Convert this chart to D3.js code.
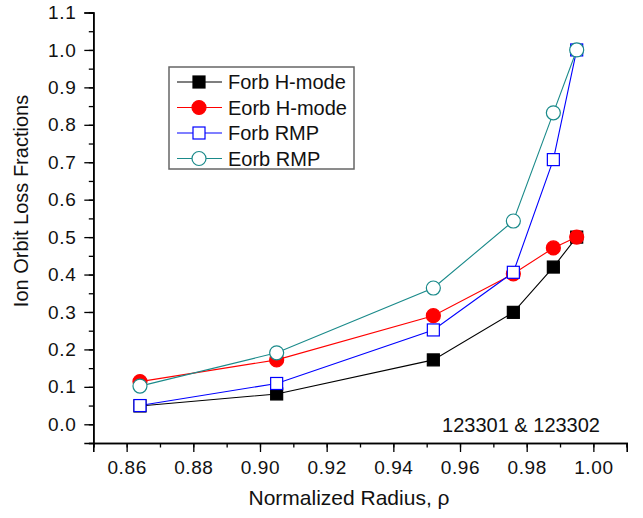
<!DOCTYPE html>
<html>
<head>
<meta charset="utf-8">
<script src="https://cdn.jsdelivr.net/npm/d3@7"></script>
<style>
  body { margin: 0; background: #fff; }
  svg { font-family: Arial, "Liberation Sans", sans-serif; }
</style>
</head>
<body>
<svg width="643" height="518"></svg>
<script>
"use strict";

// normalized radius for each point
const radius = [0.864, 0.905, 0.952, 0.976, 0.988, 0.995];

const forbHmode = [0.049, 0.081, 0.172, 0.299, 0.420, 0.500];
const eorbHmode = [0.114, 0.172, 0.290, 0.402, 0.471, 0.500];
const forbRMP   = [0.050, 0.109, 0.252, 0.406, 0.707, 1.000];
const eorbRMP   = [0.102, 0.191, 0.364, 0.543, 0.832, 1.000];

const seriesNames = ["Forb H-mode", "Eorb H-mode", "Forb RMP", "Eorb RMP"];

const xTicks = [0.86, 0.88, 0.90, 0.92, 0.94, 0.96, 0.98, 1.00];
const yTicks = [0.0, 0.1, 0.2, 0.3, 0.4, 0.5, 0.6, 0.7, 0.8, 0.9, 1.0, 1.1];

const series = [
    { name: seriesNames[0], values: forbHmode, color: "#000000", shape: "square", filled: true },
    { name: seriesNames[1], values: eorbHmode, color: "#ff0000", shape: "circle", filled: true },
    { name: seriesNames[2], values: forbRMP,   color: "#0000ff", shape: "square", filled: false },
    { name: seriesNames[3], values: eorbRMP,   color: "#1a8a8a", shape: "circle", filled: false }
];

const svg = d3.select("svg");
const plotLeft = 93.3, plotRight = 626.7, plotTop = 12.5, plotBottom = 443;

const x = d3.scaleLinear().domain([0.85, 1.01]).range([plotLeft, plotRight]);
const y = d3.scaleLinear().domain([-0.05, 1.1]).range([plotBottom, plotTop]);

// axes: major + minor ticks
const xMinor = d3.range(0.85, 1.0101, 0.01);
const yMinor = d3.range(-0.05, 1.101, 0.05);

const xAxisG = svg.append("g").attr("transform", `translate(0,${plotBottom})`);
xAxisG.call(d3.axisBottom(x).tickValues(xMinor).tickSize(4.5).tickFormat(""));
xAxisG.append("g").call(d3.axisBottom(x).tickValues(xTicks).tickSize(9).tickPadding(9)
    .tickFormat(d3.format(".2f")));

const yAxisG = svg.append("g").attr("transform", `translate(${plotLeft},0)`);
yAxisG.call(d3.axisLeft(y).tickValues(yMinor).tickSize(4.5).tickFormat(""));
yAxisG.append("g").call(d3.axisLeft(y).tickValues(yTicks).tickSize(9).tickPadding(8)
    .tickFormat(d3.format(".1f")));

svg.selectAll(".domain").attr("stroke", "#000").attr("stroke-width", 1.6);
svg.selectAll(".tick line").attr("stroke", "#000").attr("stroke-width", 1.3);
svg.selectAll(".tick text").attr("font-size", 19).attr("fill", "#111")
    .attr("letter-spacing", 0.6)
    .attr("font-family", "Arial, 'Liberation Sans', sans-serif");

// series
const line = d3.line().x(d => x(d[0])).y(d => y(d[1]));

function drawMarker(g, shape, filled, color) {
    if (shape === "square") {
        g.append("rect").attr("x", -6).attr("y", -6).attr("width", 12).attr("height", 12)
            .attr("fill", filled ? color : "#fff").attr("stroke", color).attr("stroke-width", 1.2);
    } else {
        g.append("circle").attr("r", 7)
            .attr("fill", filled ? color : "#fff").attr("stroke", color).attr("stroke-width", 1.2);
    }
}

series.forEach(s => {
    const pts = radius.map((r, i) => [r, s.values[i]]);
    svg.append("path").datum(pts).attr("d", line)
        .attr("fill", "none").attr("stroke", s.color).attr("stroke-width", 1.1);
});
series.forEach(s => {
    radius.forEach((r, i) => {
        const g = svg.append("g").attr("transform", `translate(${x(r)},${y(s.values[i])})`);
        drawMarker(g, s.shape, s.filled, s.color);
    });
});

// legend
const legend = svg.append("g").attr("transform", "translate(169,67)");
legend.append("rect").attr("width", 185).attr("height", 102)
    .attr("fill", "#fff").attr("stroke", "#666").attr("stroke-width", 1.5);
series.forEach((s, i) => {
    const row = legend.append("g").attr("transform", `translate(0,${15 + i * 25.5})`);
    row.append("line").attr("x1", 8).attr("x2", 53).attr("stroke", s.color).attr("stroke-width", 1.1);
    const m = row.append("g").attr("transform", "translate(30,0)");
    drawMarker(m, s.shape, s.filled, s.color);
    row.append("text").attr("x", 59).attr("dy", "0.36em").attr("font-size", 20)
        .attr("fill", "#111").text(s.name);
});

// annotation
svg.append("text").attr("x", 600).attr("y", 432).attr("text-anchor", "end")
    .attr("font-size", 20).attr("fill", "#111").text("123301 & 123302");

// axis titles
svg.append("text").attr("x", 349).attr("y", 505).attr("text-anchor", "middle")
    .attr("font-size", 21).attr("fill", "#111").text("Normalized Radius, ρ");
svg.append("text").attr("transform", "translate(28,201) rotate(-90)")
    .attr("text-anchor", "middle").attr("font-size", 20).attr("fill", "#111")
    .text("Ion Orbit Loss Fractions");
</script>
</body>
</html>
